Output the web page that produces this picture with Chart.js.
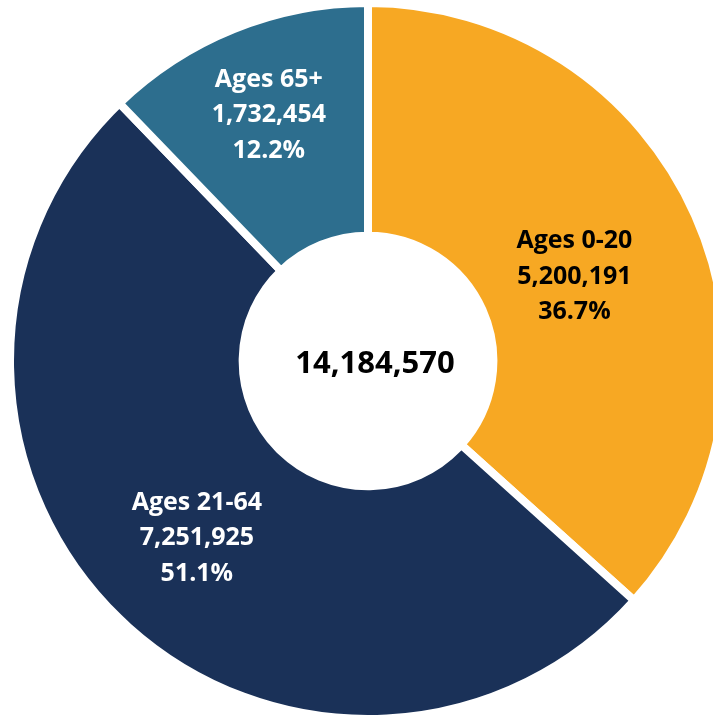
<!DOCTYPE html>
<html>
<head>
<meta charset="utf-8">
<script src="https://cdn.jsdelivr.net/npm/chart.js@4/dist/chart.umd.min.js"></script>
<style>
  body { margin: 0; background: #ffffff; }
  #wrap { position: relative; width: 713px; height: 717px; overflow: hidden; }
  #ageChart { position: absolute; left: 0; top: 0; }
</style>
</head>
<body>
<div id="wrap">
  <canvas id="ageChart" width="736" height="722"></canvas>
</div>
<script>
// Population by age group
const ageGroups = ['Ages 0-20', 'Ages 21-64', 'Ages 65+'];
const population = [5200191, 7251925, 1732454];
const sliceColors = ['#F7A823', '#1A3158', '#2D6E8E'];
const labelColors = ['#000000', '#ffffff', '#ffffff'];

const fontFamily = '"Open Sans", "Noto Sans", sans-serif';

function fmt(n) {
    return n.toLocaleString('en-US');
}

// Draws the slice labels and the total in the hole
const sliceLabels = {
    id: 'sliceLabels',
    afterDatasetsDraw(chart, args, opts) {
        const ctx = chart.ctx;
        const meta = chart.getDatasetMeta(0);
        const values = chart.data.datasets[0].data;
        const total = values.reduce((a, b) => a + b, 0);

        ctx.save();
        ctx.textAlign = 'center';
        ctx.textBaseline = 'middle';

        meta.data.forEach((arc, i) => {
            const p = arc.getProps(['x', 'y', 'startAngle', 'endAngle', 'innerRadius', 'outerRadius'], true);
            const mid = (p.startAngle + p.endAngle) / 2 + opts.turn[i];
            const r = p.innerRadius + (p.outerRadius - p.innerRadius) * opts.radius[i];
            const cx = p.x + Math.cos(mid) * r;
            const cy = p.y + Math.sin(mid) * r;
            const pct = (values[i] / total * 100).toFixed(1) + '%';
            const lines = [chart.data.labels[i], fmt(values[i]), pct];

            ctx.fillStyle = labelColors[i];
            ctx.font = 'bold 25px ' + fontFamily;
            lines.forEach((t, k) => {
                ctx.fillText(t, cx, cy + (k - 1) * 35.5);
            });
        });

        // total in the middle
        const c = meta.data[0];
        ctx.fillStyle = '#000000';
        ctx.font = 'bold 31px ' + fontFamily;
        ctx.fillText(fmt(total), c.x + 7, c.y + 3);
        ctx.restore();
    }
};

const ctx = document.getElementById('ageChart').getContext('2d');
const ageChart = new Chart(ctx, {
    type: 'doughnut',
    data: {
        labels: ageGroups,
        datasets: [{
            data: population,
            backgroundColor: sliceColors,
            borderColor: '#ffffff',
            borderWidth: 8,
            hoverOffset: 0
        }]
    },
    options: {
        responsive: false,
        animation: false,
        radius: 358,
        cutout: 125,
        layout: { padding: 0 },
        plugins: {
            legend: { display: false },
            tooltip: { enabled: false },
            sliceLabels: { radius: [0.42, 0.52, 0.6], turn: [0.03, 0, 0] }
        }
    },
    plugins: [sliceLabels]
});
</script>
</body>
</html>
